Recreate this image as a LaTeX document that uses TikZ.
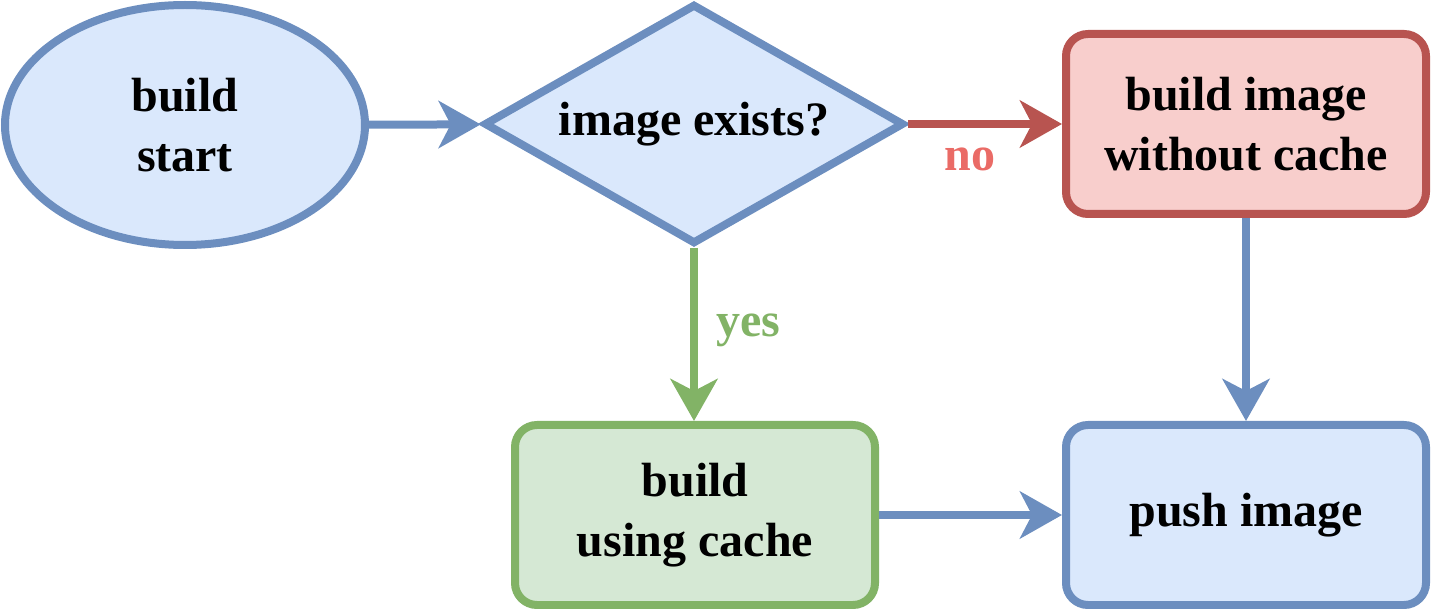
\documentclass[tikz,border=0pt]{standalone}
\usepackage{fontspec}
\setmainfont{Liberation Serif}
\usetikzlibrary{shapes.geometric,arrows.meta}
\definecolor{bfill}{HTML}{DAE8FC}
\definecolor{bline}{HTML}{6C8EBF}
\definecolor{rfill}{HTML}{F8CECC}
\definecolor{rline}{HTML}{B85450}
\definecolor{gfill}{HTML}{D5E8D4}
\definecolor{gline}{HTML}{82B366}
\definecolor{nolabel}{HTML}{EA6B66}
\tikzset{
  base/.style={line width=4pt, align=center, inner sep=0pt,
    font=\fontsize{24}{30}\selectfont\bfseries},
  startnode/.style={base, ellipse, draw=bline, fill=bfill,
    minimum width=180pt, minimum height=120pt},
  decision/.style={base, diamond, aspect=1.76, draw=bline, fill=bfill,
    minimum width=210pt, minimum height=120pt},
  boxnode/.style={base, rectangle, rounded corners=11pt,
    minimum width=180pt, minimum height=90pt},
  conn/.style={line width=4pt, -{Stealth[length=21pt, width=23.5pt, inset=6pt]}},
  lbl/.style={font=\fontsize{24}{30}\selectfont\bfseries, inner sep=0pt}
}
\begin{document}
\begin{tikzpicture}[x=0.5pt, y=-0.5pt]
\useasboundingbox (0,0) rectangle (1431,609);
\node[startnode] (start) at (185,125) {build\\start};
\node[decision] (exists) at (694,124) {image exists?};
\node[boxnode, draw=rline, fill=rfill] (nocache) at (1246,124) {build image\\without cache};
\node[boxnode, draw=gline, fill=gfill] (cache) at (695,515) {build\\using cache};
\node[boxnode, draw=bline, fill=bfill] (push) at (1246,515) {push image};
\draw[conn, bline] (start) -- (exists);
\draw[conn, rline] (exists.east) -- (nocache.west |- exists.east);
\draw[conn, gline] (exists.south) -- (cache.north -| exists.south);
\draw[conn, bline] (nocache.south) -- (push.north);
\draw[conn, bline] (cache.east) -- (push.west);
\node[lbl, text=nolabel] (nolbl) at (970,159) {no};
\node[lbl, text=gline] (yeslbl) at (748,330) {yes};
\end{tikzpicture}
\end{document}
